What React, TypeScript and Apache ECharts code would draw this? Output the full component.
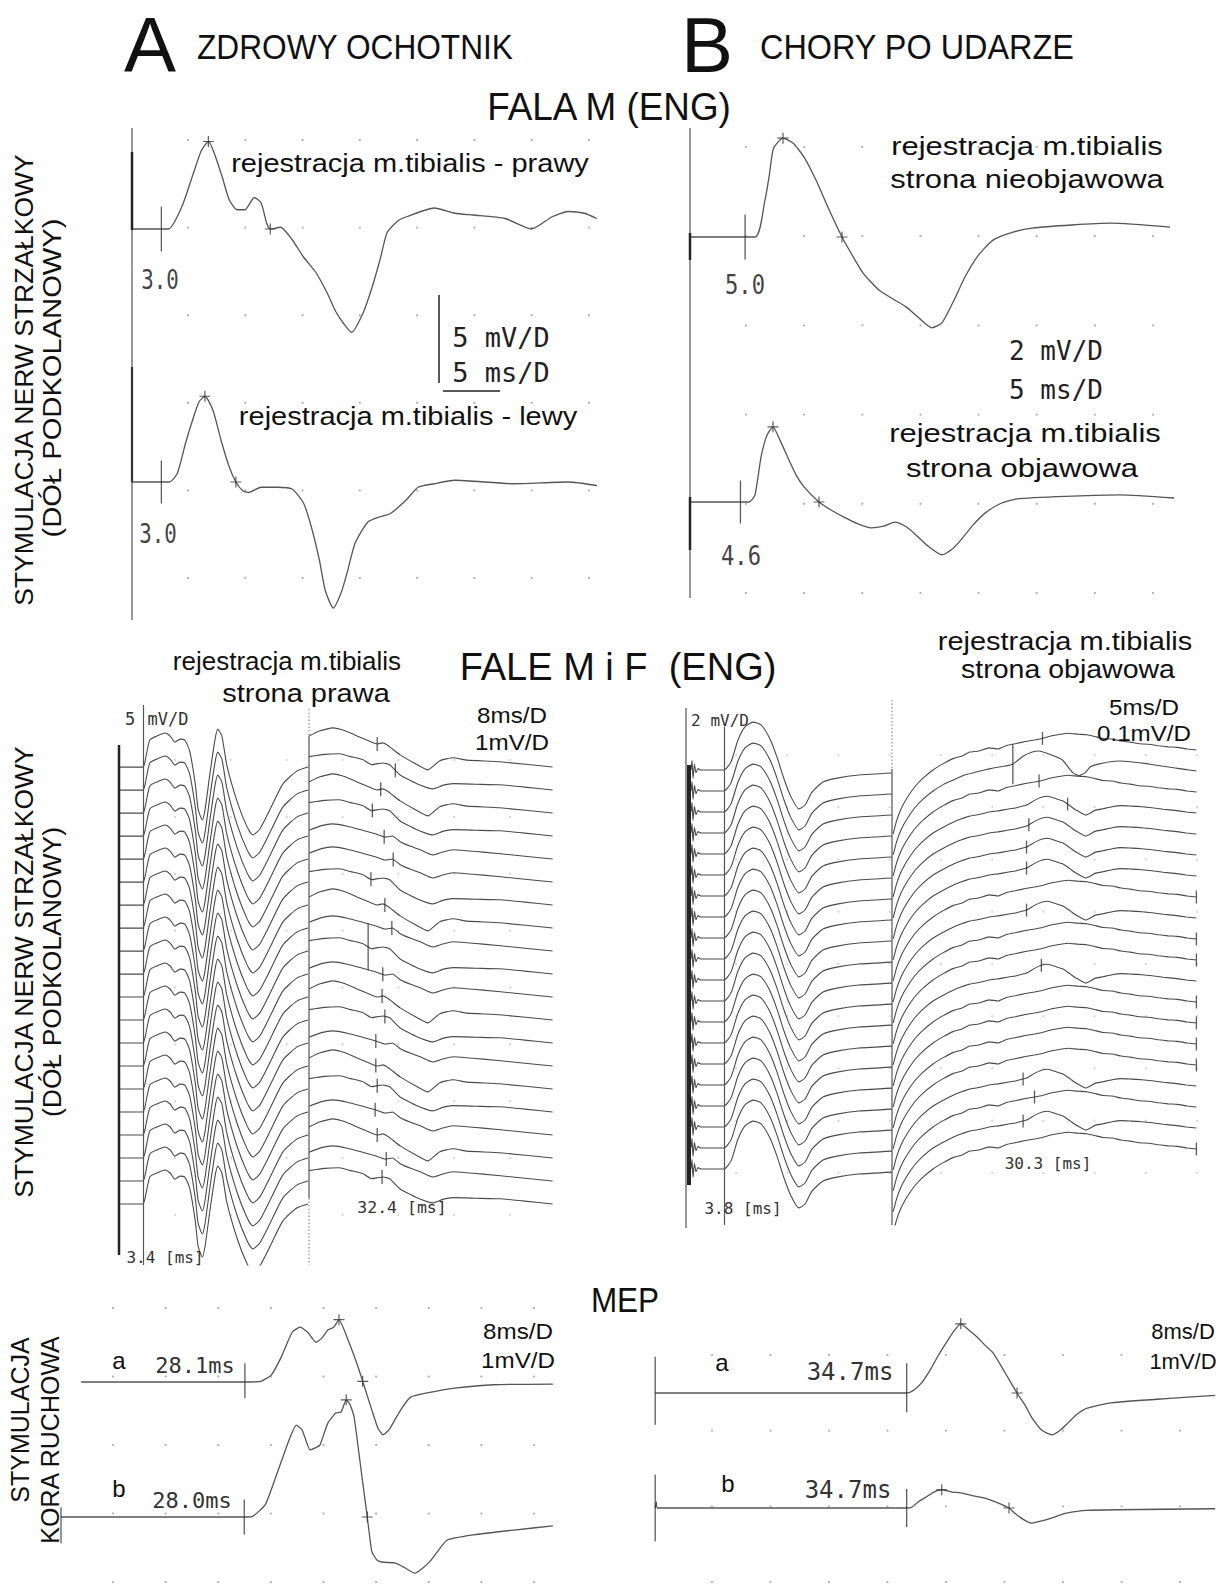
import React, { useEffect, useRef } from "react";
import * as echarts from "echarts";

// ---------------- DATA (ms, mV) ----------------
// Panel A – M wave, healthy volunteer (5 ms/D, 5 mV/D)
const mWaveA_right = [[0.4,0],[3.6,0],[4.8,1.3],[5.8,3.2],[6.5,4.5],[7.1,5.0],[8.2,3.2],[8.9,1.7],[9.6,1.1],[10.3,1.1],[11.1,1.8],[11.7,1.5],[12.2,0.3],[12.5,0],[13.4,0.1],[14.4,-0.6],[15.4,-1.6],[16.5,-2.5],[17.5,-3.7],[18.2,-4.7],[18.9,-5.4],[19.6,-5.9],[20.6,-4.8],[21.4,-3.3],[22.1,-1.7],[22.7,-0.2],[23.7,0.5],[24.4,0.7],[26.8,1.2],[28.6,0.9],[30.2,0.8],[33.0,0.6],[35.3,0],[37.1,0.7],[38.5,1.0],[39.9,0.9],[41.0,0.6]];
const mWaveA_left = [[0.4,0],[3.7,0],[4.4,0.5],[5.1,2.2],[5.8,3.7],[6.3,4.6],[6.8,4.9],[7.5,4.1],[8.2,2.4],[8.9,0.9],[9.5,0],[10.1,-0.5],[10.6,-0.6],[11.7,-0.3],[13.1,-0.3],[14.4,-0.4],[15.4,-1.2],[16.1,-2.6],[16.8,-4.5],[17.3,-6.2],[18.0,-7.2],[18.7,-6.3],[19.2,-5.2],[19.9,-3.5],[21.0,-2.3],[22.0,-2.0],[23.0,-1.8],[24.4,-1.0],[25.4,-0.3],[26.8,-0.1],[28.6,0.1],[33.7,-0.1],[38.5,0],[41.0,-0.2]];
const onsetA = [3.0, 3.0];
const peaksA_right = [[7.1,5.0],[12.5,0]];
const peaksA_left = [[6.8,4.9],[9.5,0]];

// Panel B – M wave, stroke patient (5 ms/D, 2 mV/D)
const mWaveB_nonaffected = [[0.26,0],[5.85,0],[6.71,0.83],[7.06,1.35],[7.40,1.96],[7.75,2.11],[8.26,2.22],[9.12,2.11],[10.06,1.80],[11.10,1.28],[12.13,0.67],[13.34,0],[14.11,-0.36],[15.15,-0.81],[16.52,-1.19],[17.90,-1.42],[18.85,-1.57],[19.88,-1.80],[21.08,-2.04],[21.94,-1.93],[22.98,-1.42],[23.92,-0.90],[24.96,-0.45],[26.33,-0.07],[28.06,0.11],[29.69,0.20],[33.13,0.27],[36.49,0.31],[41.57,0.22]];
const mWaveB_affected = [[0.26,0],[5.34,0],[5.85,0.16],[6.37,1.01],[6.88,1.50],[7.40,1.69],[8.00,1.39],[8.78,0.94],[9.38,0.61],[10.07,0.34],[11.36,0],[12.39,-0.18],[13.51,-0.34],[14.72,-0.49],[15.83,-0.58],[16.95,-0.54],[17.90,-0.45],[18.76,-0.54],[19.54,-0.70],[20.74,-0.99],[21.94,-1.19],[22.72,-1.08],[23.58,-0.85],[24.61,-0.52],[25.65,-0.25],[26.94,-0.04],[28.40,0.07],[33.13,0.13],[37.26,0.16],[41.91,0.09]];
const onsetB = [5.0, 4.6];
const peaksB_nonaffected = [[8.26,2.22],[13.34,0]];
const peaksB_affected = [[7.40,1.69],[11.36,0]];

// Middle – M and F waves, right side of healthy volunteer (M: 5 mV/D, F: 8 ms/D 1 mV/D)
const mWaveRepeated = [[0,0],[3.4,0],[3.7,0.43],[4.4,2.35],[5.4,2.7],[6.6,2.96],[7.3,2.7],[8.0,2.17],[8.7,2.43],[9.4,2.35],[10.1,1.39],[10.9,-1.48],[11.3,-3.65],[11.9,-4.6],[12.3,-3.65],[13.0,-0.52],[13.7,2.35],[14.1,3.3],[14.7,2.7],[15.4,0.17],[16.9,-3.04],[18.3,-5.2],[19.1,-5.9],[20.1,-5.4],[21.6,-3.65],[23.4,-1.48],[25.4,-0.35],[27.0,0]];
const fWaveLeftA = [[22.0,0.54],[23.6,0.63],[25.4,0.68],[27.2,0.63],[28.9,0.54],[30.3,0.47],[31.8,0.40],[32.6,0.42],[33.4,0.37],[35.1,0.21],[37.1,0.07],[39.1,-0.05],[40.8,0.11],[42.7,0.16],[44.7,0.12],[49.4,0.09],[57.0,0]];
const fWaveLeftB = [[22.0,0.58],[24.2,0.62],[26.4,0.63],[28.0,0.58],[29.7,0.53],[31.0,0.44],[32.0,0.46],[32.6,0.47],[33.6,0.44],[35.1,0.26],[37.5,0.11],[39.8,0.02],[41.2,0.08],[42.7,0.11],[46.0,0.10],[49.4,0.09],[53.0,0.05],[57.0,0]];
const fWaveLeftC = [[22.0,0.50],[23.8,0.58],[25.4,0.61],[27.5,0.57],[29.7,0.50],[31.5,0.44],[33.0,0.38],[34.0,0.40],[35.1,0.30],[36.6,0.22],[38.0,0.16],[39.8,0.07],[41.2,0.12],[42.7,0.16],[45.0,0.14],[47.0,0.12],[52.0,0.06],[57.0,0]];
const fLeftVariant = [0,1,0,1,2,2,1,0,2,1,2,0,1,2,0,1,2,0,2,1];
const fLeftLatencyMs = [31.8,34.4,32.3,31.1,32.8,34.1,30.9,32.9,33.9,30.5,32.6,32.5,32.9,31.6,31.6,31.8,31.5,31.8,33.1,32.5];
const mLeftOnset = 3.4;

// Middle – M and F waves, affected side of patient (M: 2 mV/D, F: 5 ms/D 0.1 mV/D)
const mWaveRepeatedB = [[0.5,0],[0.6,0.35],[0.7,-0.3],[0.85,0.2],[1.0,-0.1],[1.2,0.05],[1.5,0],[3.8,0],[4.5,0.29],[5.2,1.07],[5.9,1.54],[6.7,1.71],[7.5,1.61],[8.4,1.11],[9.1,0.46],[9.8,-0.32],[10.5,-0.96],[11.3,-1.39],[11.9,-1.25],[12.6,-0.79],[13.7,-0.43],[15.1,-0.29],[17.3,-0.18],[20.6,-0.11]];
const fWaveRightPlain = [[18.6,-0.160],[18.9,-0.135],[19.3,-0.112],[19.8,-0.092],[20.5,-0.070],[21.2,-0.054],[22.1,-0.038],[23.0,-0.026],[23.9,-0.016],[24.6,-0.012],[25.3,-0.004],[26.1,-0.002],[27.0,0.004],[27.8,0.002],[28.6,0.009],[29.3,0.012],[30.2,0.016],[31.0,0.019],[31.7,0.022],[32.5,0.027],[33.3,0.030],[34.0,0.032],[34.8,0.030],[35.6,0.029],[36.4,0.025],[37.0,0.022],[37.8,0.021],[38.6,0.017],[39.4,0.015],[40.2,0.012],[41.0,0.011],[41.9,0.008],[42.7,0.006],[43.5,0.005],[44.4,0.002],[45.2,0]];
const fWaveRightDip = [[18.6,-0.160],[18.9,-0.135],[19.3,-0.112],[19.8,-0.092],[20.5,-0.070],[21.2,-0.054],[22.1,-0.038],[23.0,-0.027],[23.9,-0.017],[24.6,-0.011],[25.3,-0.006],[26.1,-0.003],[27.0,0.002],[27.8,0.004],[28.6,0.007],[29.4,0.010],[30.3,0.015],[31.0,0.024],[31.6,0.030],[32.2,0.032],[32.9,0.027],[33.5,0.023],[34.1,0.014],[34.6,0.006],[35.1,0.000],[35.5,-0.004],[35.9,0.000],[36.3,0.005],[37.0,0.008],[37.8,0.012],[38.6,0.014],[39.5,0.013],[40.4,0.012],[41.3,0.010],[42.3,0.007],[43.3,0.005],[44.3,0.002],[45.2,0]];
const fWaveRightBig = [[18.6,-0.160],[18.9,-0.135],[19.3,-0.112],[19.8,-0.092],[20.5,-0.070],[21.2,-0.054],[22.1,-0.038],[23.0,-0.026],[23.9,-0.017],[24.8,-0.008],[25.7,-0.003],[26.6,0.002],[27.5,0.006],[28.3,0.009],[29.1,0.013],[30.0,0.028],[30.8,0.036],[31.4,0.038],[32.2,0.033],[33.0,0.026],[33.5,0.020],[34.0,0.006],[34.4,-0.004],[34.9,-0.009],[35.4,-0.004],[35.9,0.008],[36.6,0.013],[37.5,0.017],[38.5,0.019],[39.6,0.017],[40.8,0.014],[42.0,0.010],[43.2,0.006],[44.2,0.003],[45.2,0]];
const fRightVariant = [0,2,0,1,1,1,1,0,1,0,0,1,0,0,0,0,1,0,1,0];
const fRightLatencyMs = [31.7,29.1,31.4,33.9,30.5,30.3,30.3,null,30.3,null,null,31.6,null,null,null,null,30.0,31.0,30.0,null];
const fRightEndMark = [false,false,false,false,false,false,false,true,false,true,true,false,true,true,true,true,false,false,false,true];
const mRightOnset = 3.8;

// Bottom – MEP (8 ms/D, 1 mV/D)
const mepHealthyA = [[3.2,0],[28.1,0],[30.5,0.01],[32.1,0.10],[33.6,0.36],[35.3,0.73],[36.5,0.80],[37.7,0.72],[38.9,0.58],[39.8,0.64],[40.7,0.76],[41.6,0.80],[42.4,0.91],[43.8,0.61],[45.3,0.22],[46.0,0.01],[47.4,-0.41],[48.3,-0.67],[49.1,-0.77],[50.0,-0.70],[50.9,-0.55],[52.1,-0.36],[53.3,-0.22],[55.8,-0.16],[60.0,-0.09],[66.0,-0.04],[74.9,-0.03]];
const mepHealthyB = [[0.15,0],[28.0,0],[29.3,0.01],[31.2,0.18],[33.0,0.64],[34.8,1.12],[35.9,1.34],[36.8,1.27],[38.0,0.98],[38.8,1.01],[39.5,1.05],[40.7,1.37],[41.9,1.52],[42.7,1.53],[43.5,1.71],[44.1,1.64],[44.7,1.46],[45.9,0.58],[46.7,0],[47.4,-0.51],[48.2,-0.63],[49.1,-0.66],[50.9,-0.67],[52.4,-0.74],[53.9,-0.82],[55.2,-0.74],[56.4,-0.63],[58.8,-0.34],[62.9,-0.26],[69.0,-0.19],[74.9,-0.13]];
const mepPatientA = [[0.3,0],[34.7,0],[35.7,0.04],[36.8,0.14],[37.9,0.30],[39.0,0.49],[40.1,0.66],[41.2,0.82],[42.1,0.91],[43.2,0.83],[44.3,0.74],[45.4,0.63],[46.5,0.53],[48.2,0.26],[49.8,0],[50.9,-0.16],[51.8,-0.32],[53.2,-0.49],[54.6,-0.55],[55.7,-0.49],[56.8,-0.39],[58.0,-0.28],[59.4,-0.20],[62.7,-0.13],[70.7,-0.07],[76.9,-0.03]];
const mepPatientB = [[0.3,0],[0.45,0.08],[0.6,0],[34.7,0],[35.4,0.01],[36.4,0.09],[37.3,0.14],[38.4,0.21],[39.5,0.24],[40.9,0.21],[42.1,0.20],[43.8,0.16],[45.4,0.13],[47.1,0.07],[48.7,0],[49.5,-0.07],[50.2,-0.12],[51.0,-0.17],[51.8,-0.20],[53.2,-0.17],[54.6,-0.13],[56.4,-0.07],[59.4,-0.03],[76.9,-0.01]];
const mepOnset = [28.1, 28.0, 34.7, 34.7];
const mepPeaksHealthyA = [[42.4,0.91],[46.0,0.01]];
const mepPeaksHealthyB = [[43.5,1.71],[46.7,0]];
const mepPeaksPatientA = [[42.1,0.91],[49.8,0]];
const mepPeaksPatientB = [[39.5,0.24],[48.7,0]];

// ---------------- STYLE / LAYOUT ----------------
const TRACE = "#4a4a4a";
const INK = "#222";
const SANS = '"Liberation Sans", Arial, Helvetica, sans-serif';
const MONO = '"DejaVu Sans Mono", "Liberation Mono", monospace';
const M_LEFT_STEP = 2.0;   // mV display offset between repeated traces
const F_LEFT_STEP = 0.4;
const M_RIGHT_STEP = 0.75;
const F_RIGHT_STEP = 0.04;
const N_TRACES = 20;

function interp(arr: number[][], t: number) {
  for (let i = 0; i < arr.length - 1; i++) {
    const [x0, y0] = arr[i], [x1, y1] = arr[i + 1];
    if (t >= x0 && t <= x1) return y0 + ((t - x0) / (x1 - x0)) * (y1 - y0);
  }
  return arr[arr.length - 1][1];
}

function buildOption() {
  const grids: any[] = [], xAxes: any[] = [], yAxes: any[] = [], series: any[] = [], graphics: any[] = [];

  const addGrid = (left: number, top: number, width: number, height: number, xr: number[], yr: number[]) => {
    const i = grids.length;
    grids.push({ left, top, width, height, containLabel: false, show: false });
    xAxes.push({ type: "value", gridIndex: i, min: xr[0], max: xr[1], show: false });
    yAxes.push({ type: "value", gridIndex: i, min: yr[0], max: yr[1], show: false });
    return i;
  };
  const line = (gi: number, data: number[][], extra: any = {}) => {
    const s: any = {
      type: "line", xAxisIndex: gi, yAxisIndex: gi, data, symbol: "none", showSymbol: false,
      smooth: 0.2, clip: true, silent: true, z: 2,
      lineStyle: { color: TRACE, width: 1.25 },
      ...extra,
    };
    series.push(s);
    return s;
  };
  const plus = (gi: number, pts: number[][]) => series.push({
    type: "scatter", xAxisIndex: gi, yAxisIndex: gi, data: pts, silent: true, z: 4, clip: false,
    symbol: "path://M5 0L5 10M0 5L10 5", symbolSize: 11,
    itemStyle: { color: "rgba(0,0,0,0)", borderColor: "#333", borderWidth: 1.2 },
  });
  const ticks = (gi: number, pts: any[]) => series.push({
    type: "scatter", xAxisIndex: gi, yAxisIndex: gi, silent: true, z: 4, clip: false,
    symbol: "rect", data: pts.map((p) => ({ value: [p[0], p[1]], symbolSize: [1.3, p[2]] })),
    itemStyle: { color: "#333" },
  });
  const dots = (gi: number, cols: number, rows: number, color = "#9a9a9a", size = 2.2) => {
    const d: number[][] = [];
    for (let c = 0; c <= cols; c++) for (let r = 0; r <= rows; r++) d.push([c, r]);
    series.push({ type: "scatter", xAxisIndex: gi, yAxisIndex: gi, data: d, symbol: "circle", symbolSize: size, silent: true, clip: false, itemStyle: { color }, z: 1 });
  };
  const T = (text: string, x: number, y: number, size: number, o: any = {}) => graphics.push({
    type: "text", x, y, rotation: o.rot || 0, scaleX: o.sx || 1, silent: true, z: 20,
    style: {
      text, font: `${size}px ${o.mono ? MONO : SANS}`, fill: o.color || "#111",
      align: o.align || "center", verticalAlign: "middle",
      textAlign: o.align || "center", textVerticalAlign: "middle",
    },
  });
  const L = (x1: number, y1: number, x2: number, y2: number, w = 1.2, color = "#555", dash: any = null) => graphics.push({
    type: "line", silent: true, z: 5, shape: { x1, y1, x2, y2 },
    style: { stroke: color, lineWidth: w, lineDash: dash || undefined },
  });
  const vMark = (x: number, yTop: number, yBottom: number) => ({
    silent: true, symbol: ["none", "none"], label: { show: false },
    lineStyle: { color: "#555", width: 1.2, type: "solid" },
    data: [[{ coord: [x, yTop] }, { coord: [x, yBottom] }]],
  });

  // ----- Panel A -----
  const gAd = addGrid(188, 140, 401, 438, [0, 7], [0, 5]);
  dots(gAd, 7, 5);
  const gA1 = addGrid(127, 124, 475.6, 245, [0, 41.5], [-8, 6]);
  const gA2 = addGrid(127, 377, 475.6, 245, [0, 41.5], [-8, 6]);
  line(gA1, mWaveA_right, { lineStyle: { color: "#555", width: 1.3 } });
  line(gA2, mWaveA_left, { lineStyle: { color: "#555", width: 1.3 } });
  ticks(gA1, [[onsetA[0], 0, 45]]);
  ticks(gA2, [[onsetA[1], 0, 43]]);
  plus(gA1, peaksA_right);
  plus(gA2, peaksA_left);

  // ----- Panel B -----
  const gBd = addGrid(746, 147, 407, 446, [0, 7], [0, 5]);
  dots(gBd, 7, 5);
  const gB1 = addGrid(687, 125.75, 493.85, 222.5, [0, 42.5], [-2.5, 2.5]);
  const gB2 = addGrid(687, 390.75, 493.85, 222.5, [0, 42.5], [-2.5, 2.5]);
  line(gB1, mWaveB_nonaffected, { lineStyle: { color: "#555", width: 1.3 } });
  line(gB2, mWaveB_affected, { lineStyle: { color: "#555", width: 1.3 } });
  ticks(gB1, [[onsetB[0], 0, 45]]);
  ticks(gB2, [[onsetB[1], 0, 43]]);
  plus(gB1, peaksB_nonaffected);
  plus(gB2, peaksB_affected);

  // ----- Middle: faint screen dots -----
  const gCd = addGrid(175, 760, 335, 455, [0, 6], [0, 8]);
  dots(gCd, 6, 8, "#c4c4c4", 2);
  const gDd = addGrid(736, 755, 461, 418, [0, 9], [0, 8]);
  dots(gDd, 9, 8, "#c4c4c4", 2);

  // ----- Middle left: M waves -----
  const gC = addGrid(119, 705, 189.7, 560, [0, 27.1], [-43.3, 5.4]);
  for (let i = 0; i < N_TRACES; i++) {
    const s = line(gC, mWaveRepeated.map(([t, v]) => [t, v - i * M_LEFT_STEP]), { lineStyle: { color: TRACE, width: 1.1 } });
    if (i === 0) s.markLine = vMark(mLeftOnset, 5.4, -43.3);
  }
  // ----- Middle left: F waves -----
  const fLeftTemplates = [fWaveLeftA, fWaveLeftB, fWaveLeftC];
  const gCF = addGrid(309, 705, 243.6, 560, [22, 57], [-8.661, 1.078]);
  const cfTicks: any[] = [];
  for (let i = 0; i < N_TRACES; i++) {
    const tpl = fLeftTemplates[fLeftVariant[i]];
    line(gCF, tpl.map(([t, v]) => [t, v - i * F_LEFT_STEP]), { smooth: 0.15, lineStyle: { color: TRACE, width: 1.1 } });
    const t = fLeftLatencyMs[i];
    cfTicks.push([t, interp(tpl, t) - i * F_LEFT_STEP, i === 9 ? 47 : 14]);
  }
  ticks(gCF, cfTicks);

  // ----- Middle right: M waves -----
  const gD = addGrid(686, 708, 206, 517, [0, 20.6], [-16.25, 2.214]);
  for (let i = 0; i < N_TRACES; i++) {
    const s = line(gD, mWaveRepeatedB.map(([t, v]) => [t, v - i * M_RIGHT_STEP]), { lineStyle: { color: TRACE, width: 1.1 } });
    if (i === 0) s.markLine = vMark(mRightOnset, 1.55, -16.25);
  }
  // ----- Middle right: F waves -----
  const fRightTemplates = [fWaveRightPlain, fWaveRightDip, fWaveRightBig];
  const gDF = addGrid(892, 700, 304.4, 525, [18.5, 45.2], [-0.9048, 0.0952]);
  const dfTicks: any[] = [];
  for (let i = 0; i < N_TRACES; i++) {
    const tpl = fRightTemplates[fRightVariant[i]];
    line(gDF, tpl.map(([t, v]) => [t, v - i * F_RIGHT_STEP]), { smooth: 0.1, lineStyle: { color: TRACE, width: 1.1 } });
    const t = fRightLatencyMs[i];
    if (t != null) dfTicks.push([t, interp(tpl, t) - i * F_RIGHT_STEP, i === 1 ? 40 : 13]);
    if (fRightEndMark[i]) dfTicks.push([45.2, -i * F_RIGHT_STEP, 13]);
  }
  ticks(gDF, dfTicks);

  // ----- Bottom left: MEP healthy -----
  const gEd = addGrid(113, 1308, 421, 274, [0, 8], [0, 4]);
  dots(gEd, 8, 4);
  const gEa = addGrid(60, 1299.8, 493.5, 164.4, [0, 75], [-1.2, 1.2]);
  const gEb = addGrid(60, 1380, 493.5, 202.1, [0, 75], [-0.95, 2.0]);
  line(gEa, mepHealthyA, { smooth: 0.15, lineStyle: { color: "#555", width: 1.3 } });
  line(gEb, mepHealthyB, { smooth: 0.15, lineStyle: { color: "#555", width: 1.3 } });
  ticks(gEa, [[mepOnset[0], 0.02, 35]]);
  ticks(gEb, [[mepOnset[1], 0, 35], [0.15, -0.12, 36]]);
  plus(gEa, mepPeaksHealthyA);
  plus(gEb, mepPeaksHealthyB);

  // ----- Bottom right: MEP patient -----
  const gFd = addGrid(712, 1355, 468, 227, [0, 8], [0, 3]);
  dots(gFd, 8, 3);
  const gFa = addGrid(653, 1317, 562.9, 152, [0, 77], [-1, 1]);
  const gFb = addGrid(653, 1432, 562.9, 152, [0, 77], [-1, 1]);
  line(gFa, mepPatientA, { smooth: 0.2, lineStyle: { color: "#555", width: 1.3 } });
  line(gFb, mepPatientB, { smooth: 0.2, lineStyle: { color: "#555", width: 1.3 } });
  ticks(gFa, [[mepOnset[2], 0.07, 49], [0.3, 0.03, 68]]);
  ticks(gFb, [[mepOnset[3], 0, 38], [0.3, 0, 67]]);
  plus(gFa, mepPeaksPatientA);
  plus(gFb, mepPeaksPatientB);

  // ----- decoration lines -----
  L(132, 128, 132, 620);
  L(132, 152, 132, 230, 2.5, INK);
  L(132, 367, 132, 482, 2.2, "#333");
  L(690, 128, 690, 598);
  L(690, 233, 690, 260, 2.5, INK);
  L(690, 497, 690, 550, 2.5, INK);
  L(439, 295, 439, 383, 1.5, INK);
  L(443, 391, 500, 391, 1.5, INK);
  L(119, 745, 119, 1255, 2.5, INK);
  L(309, 709, 309, 736, 1, "#777", [1.5, 2]);
  L(309, 736, 309, 1198, 1.2, "#555");
  L(309, 1198, 309, 1265, 1, "#777", [1.5, 2]);
  L(686, 708, 686, 1228, 1.2, "#555");
  L(689, 765, 689, 1185, 4, INK);
  L(892, 700, 892, 769, 1, "#777", [1.5, 2]);
  L(892, 769, 892, 1225, 1.2, "#555");

  // ----- texts -----
  const rot = Math.PI / 2;
  T("A", 150, 45, 78);
  T("ZDROWY OCHOTNIK", 197, 47, 35, { align: "left", sx: 0.905 });
  T("B", 707, 45, 78);
  T("CHORY PO UDARZE", 760, 47, 35, { align: "left", sx: 0.926 });
  T("FALA M (ENG)", 609, 107, 38, { sx: 0.97 });
  T("STYMULACJA NERW STRZAŁKOWY", 24, 380, 26.5, { rot });
  T("(DÓŁ PODKOLANOWY)", 52, 378, 26.5, { rot, sx: 1.1 });
  T("STYMULACJA NERW STRZAŁKOWY", 24, 972, 26.5, { rot });
  T("(DÓŁ PODKOLANOWY)", 52, 972, 26.5, { rot });
  T("STYMULACJA", 20, 1420, 25, { rot });
  T("KORA RUCHOWA", 50, 1440, 25, { rot });

  T("rejestracja m.tibialis - prawy", 410, 163, 25, { sx: 1.16 });
  T("3.0", 160, 280, 26, { mono: true, color: "#444", sx: 0.8 });
  T("5 mV/D", 501, 337, 27, { mono: true, color: INK });
  T("5 ms/D", 501, 372, 27, { mono: true, color: INK });
  T("rejestracja m.tibialis - lewy", 408, 416, 25, { sx: 1.16 });
  T("3.0", 158, 534, 26, { mono: true, color: "#444", sx: 0.8 });

  T("rejestracja m.tibialis", 1027, 146, 26, { sx: 1.19 });
  T("strona nieobjawowa", 1027, 179, 26, { sx: 1.19 });
  T("5.0", 745, 285, 26, { mono: true, color: "#444", sx: 0.85 });
  T("2 mV/D", 1056, 351, 26, { mono: true, color: INK });
  T("5 ms/D", 1056, 390, 26, { mono: true, color: INK });
  T("rejestracja m.tibialis", 1025, 433, 26, { sx: 1.19 });
  T("strona objawowa", 1022, 468, 26, { sx: 1.19 });
  T("4.6", 741, 556, 26, { mono: true, color: "#444", sx: 0.85 });

  T("rejestracja m.tibialis", 287, 661, 25, { sx: 1.04 });
  T("strona prawa", 306, 693, 25, { sx: 1.16 });
  T("FALE M i F  (ENG)", 618, 667, 38);
  T("rejestracja m.tibialis", 1065, 641, 25, { sx: 1.16 });
  T("strona objawowa", 1068, 670, 25, { sx: 1.14 });
  T("5", 130, 719, 17, { mono: true, color: "#333" });
  T("mV/D", 168, 719, 17, { mono: true, color: "#333" });
  T("8ms/D", 512, 715, 22, { sx: 1.1 });
  T("1mV/D", 512, 742, 22, { sx: 1.1 });
  T("3.4 [ms]", 165, 1257, 16, { mono: true, color: "#333" });
  T("32.4 [ms]", 402, 1207, 16.5, { mono: true, color: "#333" });
  T("2 mV/D", 720, 720, 16, { mono: true, color: "#333" });
  T("5ms/D", 1144, 707, 22, { sx: 1.1 });
  T("0.1mV/D", 1144, 733, 22, { sx: 1.1 });
  T("3.8 [ms]", 743, 1208, 16, { mono: true, color: "#333" });
  T("30.3 [ms]", 1048, 1163, 16, { mono: true, color: "#333" });

  T("MEP", 625, 1300, 35, { sx: 0.9 });
  T("a", 119, 1360, 24);
  T("28.1ms", 195, 1365, 22, { mono: true, color: "#333" });
  T("b", 119, 1488, 24);
  T("28.0ms", 192, 1500, 22, { mono: true, color: "#333" });
  T("8ms/D", 518, 1331, 22, { sx: 1.1 });
  T("1mV/D", 518, 1360, 22, { sx: 1.1 });
  T("a", 722, 1362, 24);
  T("34.7ms", 850, 1372, 24, { mono: true, color: "#333" });
  T("b", 728, 1483, 24);
  T("34.7ms", 848, 1490, 24, { mono: true, color: "#333" });
  T("8ms/D", 1183, 1331, 22, { sx: 1.0 });
  T("1mV/D", 1183, 1361, 22, { sx: 1.0 });

  return {
    animation: false,
    backgroundColor: "#ffffff",
    grid: grids,
    xAxis: xAxes,
    yAxis: yAxes,
    series,
    graphic: graphics,
  };
}

export default function App() {
  const ref = useRef<HTMLDivElement>(null);
  useEffect(() => {
    if (!ref.current) return;
    const chart = echarts.init(ref.current, null, { renderer: "svg" });
    chart.setOption(buildOption());
    return () => chart.dispose();
  }, []);
  return (
    <div
      ref={ref}
      style={{ position: "absolute", left: 0, top: 0, width: 1216, height: 1584, background: "#fff" }}
    />
  );
}
